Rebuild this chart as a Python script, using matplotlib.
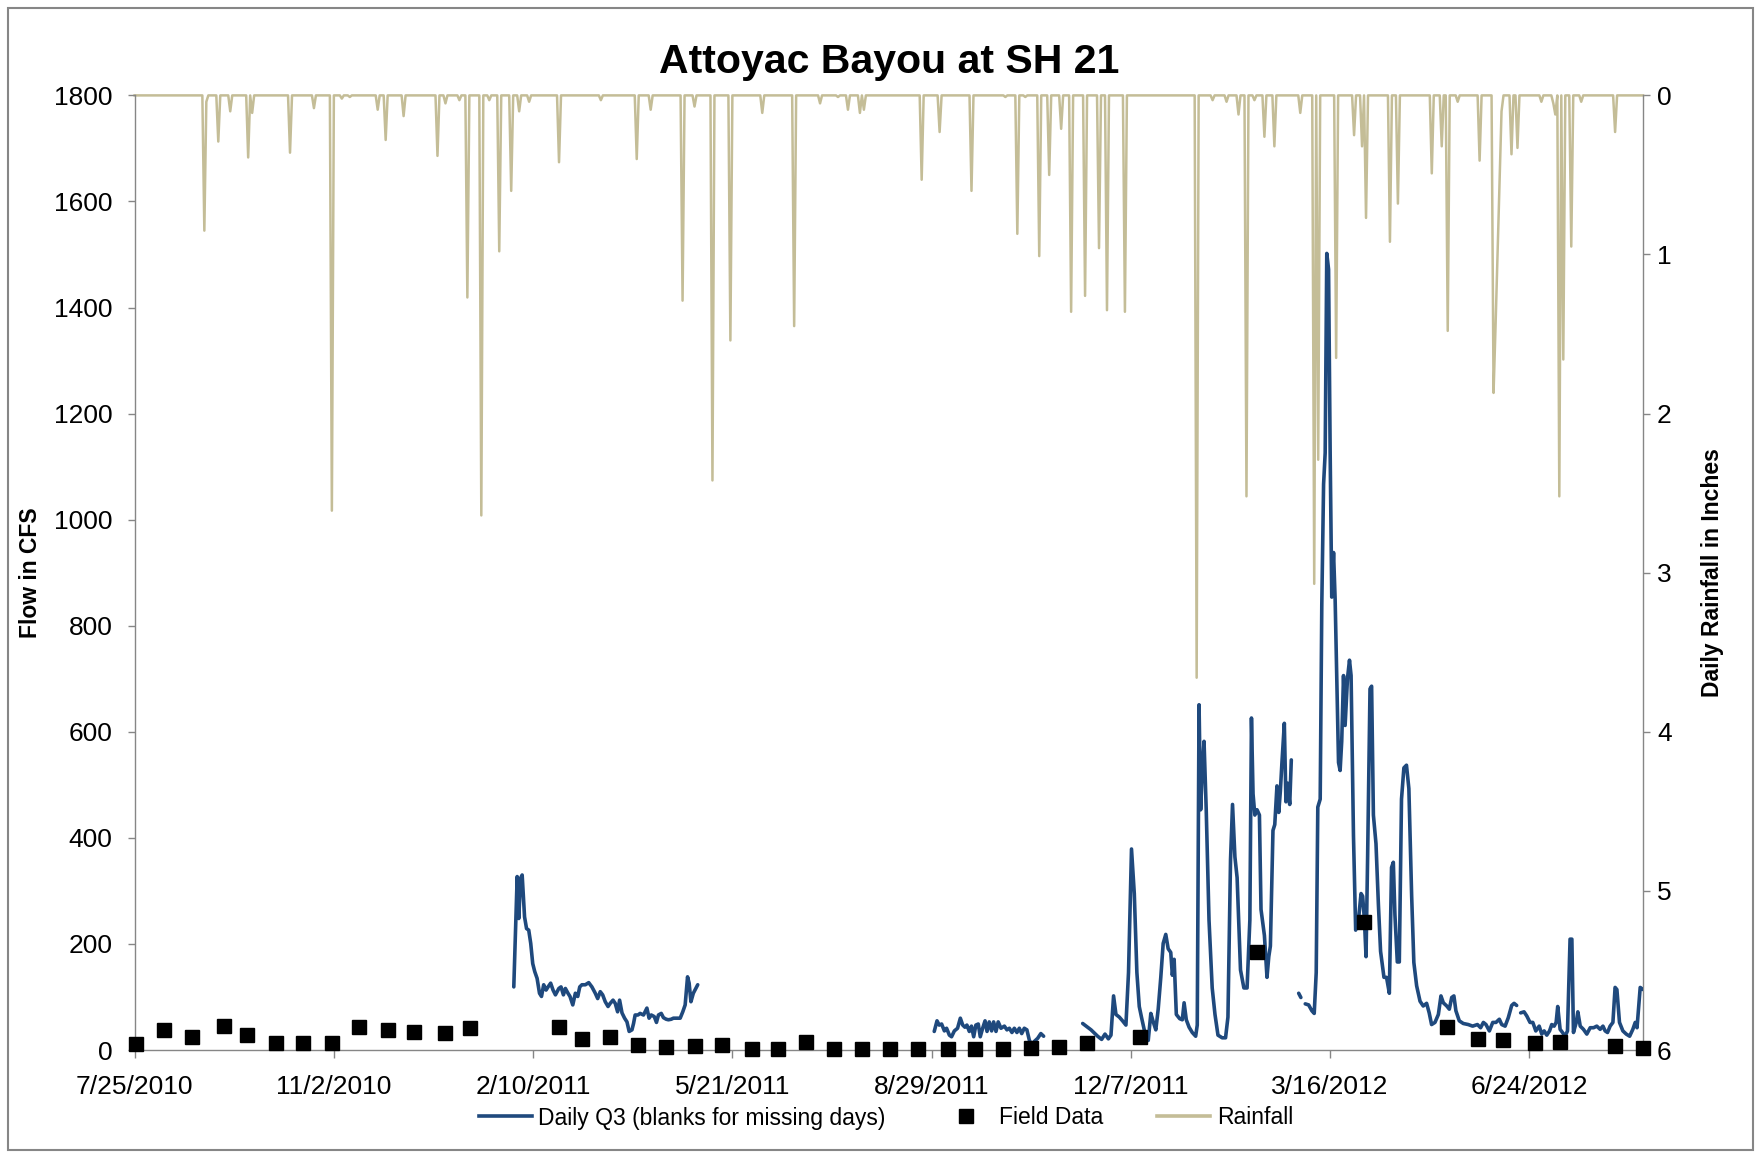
import datetime as dt
import numpy as np
import matplotlib
matplotlib.use("Agg")
import matplotlib.pyplot as plt
import matplotlib.dates as mdates
from matplotlib.lines import Line2D
from matplotlib.patches import Rectangle

FONT = ["Liberation Sans", "DejaVu Sans"]
plt.rcParams["font.family"] = FONT

# ---------------- data ----------------
START = dt.date(2010, 7, 25)          # day 0 of the record
LAST_DAY = 757                        # last day of the record (8/20/2012)

tick_labels = ["7/25/2010", "11/2/2010", "2/10/2011", "5/21/2011",
               "8/29/2011", "12/7/2011", "3/16/2012", "6/24/2012"]

# daily rainfall (inches) - only the days with rain; all other days are 0
rain_days = [35, 36, 42, 48, 57, 59, 78, 90, 99, 104, 108, 122, 126, 135, 152,
             156, 163, 167, 174, 178, 183, 189, 193, 198, 213, 234, 252, 259,
             275, 281, 290, 299, 315, 331, 344, 353, 358, 364, 366, 395, 404,
             420, 437, 443, 447, 454, 459, 465, 470, 477, 484, 488, 497, 533,
             541, 548, 554, 558, 562, 567, 572, 585, 592, 594, 603, 612, 616,
             618, 630, 634, 651, 656, 659, 664, 675, 682, 683, 684, 685, 686,
             691, 694, 706, 712, 713, 715, 717, 721, 726, 743]
rain_inches = [0.85, 0.04, 0.29, 0.10, 0.39, 0.11, 0.36, 0.08, 2.61, 0.02, 0.01,
               0.09, 0.28, 0.13, 0.38, 0.05, 0.03, 1.27, 2.64, 0.03, 0.98, 0.60,
               0.10, 0.04, 0.42, 0.03, 0.40, 0.09, 1.29, 0.07, 2.42, 1.54, 0.11,
               1.45, 0.05, 0.01, 0.09, 0.11, 0.09, 0.53, 0.23, 0.60, 0.01, 0.87,
               0.01, 1.01, 0.50, 0.21, 1.36, 1.26, 0.96, 1.35, 1.36, 3.66, 0.03,
               0.04, 0.12, 2.52, 0.03, 0.26, 0.32, 0.11, 3.07, 2.29, 1.65, 0.25,
               0.32, 0.77, 0.92, 0.68, 0.49, 0.32, 1.48, 0.04, 0.41, 1.87, 1.45,
               1.00, 0.55, 0.10, 0.37, 0.33, 0.04, 0.05, 0.12, 2.52, 1.66, 0.95,
               0.04, 0.23]

# daily flow Q3 (cfs); NaN marks the missing-day gaps
nan = np.nan
flow_days = [
    190.3, 192.0, 192.8, 193.7, 194.5, 195.7, 196.7, 197.8, 198.8, 199.8, 200.8,
    202.0, 203.2, 204.2, 205.3, 206.5, 207.5, 208.8, 210.0, 211.2, 212.9, 214.0,
    215.2, 216.2, 217.5, 218.5, 219.9, 221.2, 222.4, 223.4, 224.5, 226.2, 227.9,
    229.5, 231.2, 232.4, 233.7, 234.9, 236.2, 237.6, 238.7, 240.1, 241.2, 242.4,
    243.4, 244.6, 245.9, 247.1, 248.2, 249.6, 250.4, 251.2, 252.6, 253.7, 255.4,
    257.1, 258.2, 259.3, 260.8, 261.9, 262.9, 264.3, 265.4, 266.8, 267.9, 269.3,
    270.4, 272.1, 273.8, 275.1, 276.3, 277.5, 278.3, 279.2, 280.4, 282.6, nan,
    401.3, 402.7, 403.8, 405.0, 406.4, 407.5, 408.9, 410.0, 411.4, 413.0, 414.4,
    415.6, 416.7, 417.7, 418.9, 420.0, 421.1, 422.2, 423.4, 424.4, 425.6, 426.8,
    427.8, 428.9, 430.1, 431.1, 432.3, 433.4, 434.8, 436.5, 437.8, 439.0, 440.3,
    441.5, 442.8, 444.0, 445.2, 446.5, 447.8, 449.0, 450.2, 451.5, 453.2, 454.8,
    456.2, nan,
    475.8, 480.0, 483.3, 485.3, 487.0, 488.7, 490.0, 491.3, 492.5, 494.2, 495.8,
    497.5, 498.8, 500.3, 501.7, 503.0, 504.2, 505.3, 506.7, 508.7, 510.0, 511.3,
    512.5, 513.7, 515.0, 516.2, 517.5, 518.7, 520.0, 520.8, 521.7, 522.8, 524.5,
    525.8, 526.7, 527.8, 529.2, 530.8, 532.5, 533.3, 534.2, 535.0, 535.8, 536.7,
    537.8, 539.2, 540.8, 542.2, 543.7, 545.8, 547.5, 548.7, 550.0, 551.0, 552.2,
    553.3, 555.0, 556.7, 558.3, 559.7, 560.5, 561.3, 562.2, 563.3, 564.5, 565.3,
    567.0, 568.3, 569.2, 570.0, 571.3, 572.2, 573.3, 574.2, 575.0, 575.8, 577.0,
    577.8, 578.7, 579.7, 580.5, nan,
    584.2, 585.3, nan,
    587.5, 589.2, 590.8, 592.0, 593.0, 593.8, 595.0, 595.8, 596.7, 597.5, 598.3,
    599.2, 600.0, 600.8, 601.7, 602.5, 603.3, 604.2, 605.0, 605.8, 606.7, 607.5,
    608.7, 609.7, 610.5, 611.7, 612.8, 614.2, 615.5, 616.3, 617.2, 618.0, 618.8,
    620.0, 620.8, 621.7, 623.0, 624.2, 625.3, 627.0, 628.3, 629.7, 630.8, 631.7,
    632.5, 633.7, 634.7, 635.8, 637.0, 638.3, 639.5, 640.9, 642.0, 643.4, 645.1,
    646.7, 648.4, 649.7, 650.9, 652.6, 654.3, 655.6, 656.8, 658.5, 659.8, 661.0,
    662.1, 663.1, 664.8, 666.8, 669.3, 671.5, 673.9, 675.5, 676.9, 678.2, 679.9,
    681.6, 683.2, 684.9, 686.1, 687.8, 689.4, 691.1, 692.3, 693.6, nan,
    695.6, 697.3, 698.7, 700.3, 701.7, 703.2, 704.9, 706.2, 707.4, 708.7, 710.1,
    711.2, 712.4, 713.4, 714.2, 715.4, 716.6, 717.9, 719.1, 720.4, 721.3, 722.1,
    723.5, 724.3, 725.5, 727.1, 728.8, 730.5, 732.2, 733.8, 735.5, 736.9, 738.0,
    739.2, 740.5, 741.9, 743.0, 743.9, 745.2, 746.9, 748.6, 750.3, 751.9, 753.1,
    754.0, 755.6, 757.0]
flow_cfs = [
    119, 327, 248, 324, 330, 251, 229, 226, 201, 163, 148,
    135, 107, 101, 123, 113, 119, 126, 113, 104, 116, 119,
    104, 116, 107, 101, 85, 107, 101, 119, 123, 123, 127,
    119, 107, 97, 110, 104, 91, 82, 88, 94, 88, 72,
    94, 70, 60, 53, 35, 38, 50, 66, 66, 69, 66,
    79, 60, 66, 63, 52, 66, 69, 61, 58, 57, 58,
    60, 60, 60, 72, 85, 138, 126, 91, 107, 123, nan,
    35, 55, 47, 49, 36, 41, 28, 25, 36, 41, 60,
    47, 43, 47, 35, 45, 25, 47, 49, 25, 41, 55,
    35, 53, 36, 53, 35, 53, 41, 45, 38, 41, 33,
    41, 33, 41, 31, 41, 38, 19, 9, 16, 22, 31,
    26, nan,
    50, 38, 26, 20, 30, 21, 28, 102, 67, 62, 55,
    47, 146, 379, 295, 146, 82, 62, 38, 18, 69, 52,
    38, 77, 137, 201, 218, 191, 184, 141, 171, 67, 59,
    57, 89, 57, 43, 33, 26, 47, 651, 453, 527, 582,
    453, 245, 117, 67, 28, 23, 23, 62, 359, 463, 364,
    325, 151, 117, 117, 245, 626, 483, 443, 453, 443, 265,
    216, 137, 176, 196, 414, 425, 498, 448, 488, 542, 616,
    468, 503, 463, 547, nan,
    107, 99, nan,
    87, 85, 74, 69, 146, 458, 473, 839, 1067, 1126, 1502,
    1472, 1126, 854, 938, 849, 701, 542, 527, 582, 706, 612,
    701, 735, 706, 404, 226, 245, 295, 290, 245, 176, 364,
    681, 686, 443, 389, 275, 186, 137, 137, 107, 344, 354,
    255, 166, 166, 473, 532, 537, 493, 290, 165, 121, 92,
    83, 88, 70, 48, 52, 67, 102, 89, 83, 77, 99,
    102, 74, 55, 50, 48, 45, 48, 42, 52, 48, 36,
    52, 52, 58, 48, 45, 61, 84, 88, 84, nan,
    70, 72, 64, 52, 52, 36, 45, 30, 36, 28, 36,
    48, 45, 52, 82, 39, 33, 26, 36, 209, 209, 33,
    52, 72, 45, 39, 30, 42, 42, 45, 39, 45, 36,
    33, 45, 52, 118, 114, 52, 36, 30, 26, 39, 52,
    42, 118, 114]

# field measurements (cfs)
field_days = [0.6, 15, 28.8, 44.9, 56.4, 70.8, 84.6, 98.9, 112.7, 127.1, 140.4,
              155.9, 168.5, 212.8, 224.6, 238.7, 252.5, 266.9, 281, 295, 309.7,
              322.7, 337, 351, 365, 379, 393, 408, 422, 436, 449.8, 463.7, 477.9,
              504.7, 563.3, 617, 658.5, 674, 686.9, 702.8, 715.4, 742.7, 756.8]
field_cfs = [11, 37, 24, 46, 28, 14, 14, 14, 43, 37, 34,
             32, 41, 43, 20, 24, 9, 6, 7, 9, 2,
             1, 16, 1, 1, 1, 1, 1, 1, 1, 4, 6, 13,
             25, 184, 242, 43, 21, 19, 13, 16, 8, 4]

# ---------------- figure ----------------
W, H = 1759, 1155
fig = plt.figure(figsize=(W / 100, H / 100), dpi=100)
fig.patch.set_facecolor("white")

L, R, T, B = 134.6, 1643, 95.4, 1050
ax = fig.add_axes([L / W, 1 - B / H, (R - L) / W, (B - T) / H])
ax2 = ax.twinx()

base = mdates.date2num(START)

# rainfall (secondary axis, inverted)
rain = np.zeros(LAST_DAY + 1)
rain[np.array(rain_days)] = rain_inches
rain_x = base + np.arange(LAST_DAY + 1)
ax2.plot(rain_x, rain, color="#C4BD97", lw=1.8, solid_joinstyle="round",
         clip_on=False, zorder=2)
ax2.set_ylim(6, 0)
ax2.set_yticks(range(0, 7))

# flow + field data on primary axis, drawn above the rainfall
ax.set_zorder(ax2.get_zorder() + 1)
ax.patch.set_visible(False)
ax.plot(base + np.array(flow_days), np.array(flow_cfs), color="#1F497D",
        lw=2.6, solid_joinstyle="round", solid_capstyle="round", zorder=3)
ax.plot(base + np.array(field_days), field_cfs, ls="none", marker="s",
        ms=9.5, color="black", clip_on=False, zorder=4)

ax.set_ylim(0, 1800)
ax.set_yticks(range(0, 1801, 200))
ax.set_xlim(base, base + LAST_DAY)

tick_pos = [mdates.date2num(dt.datetime.strptime(s, "%m/%d/%Y")) for s in tick_labels]
ax.set_xticks(tick_pos)
ax.set_xticklabels(tick_labels)

spine_c = "#868686"
for a in (ax, ax2):
    for s in a.spines.values():
        s.set_color(spine_c)
        s.set_linewidth(1.0)
    a.spines["top"].set_visible(False)
ax.spines["right"].set_visible(False)
ax2.spines["left"].set_visible(False)
ax2.spines["bottom"].set_visible(False)

TICK_FS = 19
ax.tick_params(axis="y", direction="out", length=5, width=1.0, color=spine_c,
               labelsize=TICK_FS, pad=11, labelcolor="black")
ax.tick_params(axis="x", direction="out", length=6, width=1.0, color=spine_c,
               labelsize=TICK_FS, pad=12, labelcolor="black")
ax2.tick_params(axis="y", direction="out", length=5, width=1.0, color=spine_c,
                labelsize=TICK_FS, pad=5, labelcolor="black")

LABEL_FS = 16.5
ax.set_ylabel("Flow in CFS", fontsize=LABEL_FS, fontweight="bold")
ax.yaxis.set_label_coords(-0.0614, 0.5)
ax2.set_ylabel("Daily Rainfall in Inches", fontsize=LABEL_FS, fontweight="bold")
ax2.yaxis.set_label_coords(1.0385, 0.5)

fig.text((L + R) / 2 / W, 1 - 62 / H, "Attoyac Bayou at SH 21",
         ha="center", va="center", fontsize=29.5, fontweight="bold")

handles = [
    Line2D([], [], color="#1F497D", lw=2.6),
    Line2D([], [], color="black", ls="none", marker="s", ms=9.5),
    Line2D([], [], color="#C4BD97", lw=2.6),
]
fig.legend(handles, ["Daily Q3 (blanks for missing days)", "Field Data", "Rainfall"],
           loc="center", bbox_to_anchor=(886 / W, 1 - 1118 / H), ncol=3,
           frameon=False, fontsize=16.5, handlelength=2.3,
           columnspacing=2.35, handletextpad=0.3)

fig.patches.append(Rectangle((8 / W, 1 - 1150 / H), 1745 / W, 1142 / H,
                             transform=fig.transFigure, fill=False,
                             edgecolor=spine_c, lw=1.5))

fig.savefig("out.png", dpi=100)
